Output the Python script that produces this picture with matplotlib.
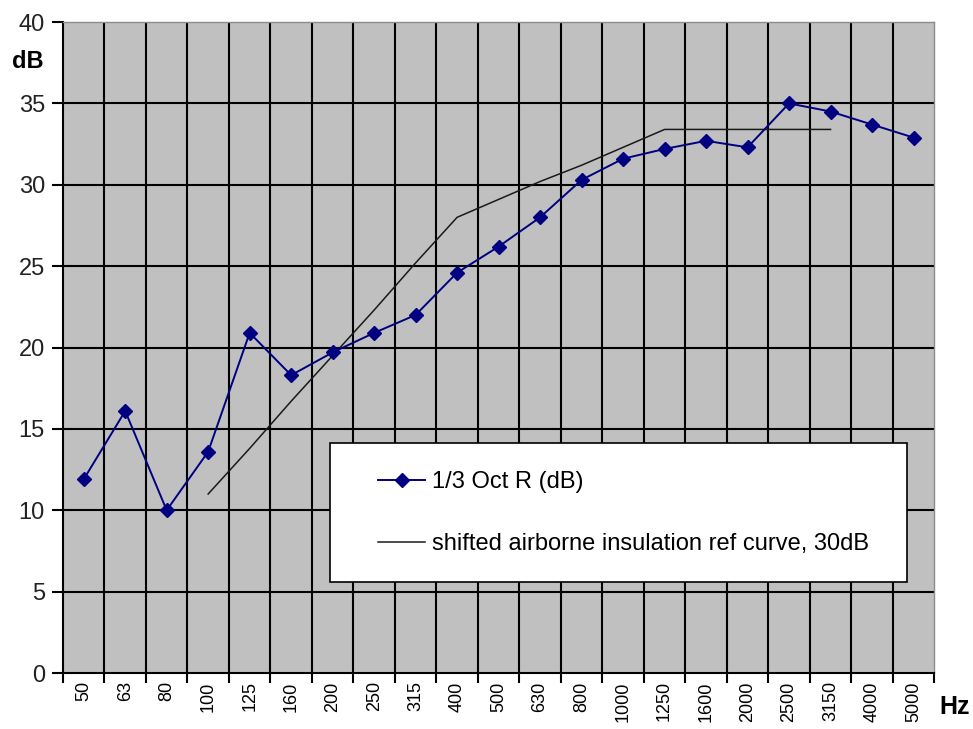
import numpy as np
import matplotlib.pyplot as plt
from matplotlib.patches import Rectangle

plt.rcParams['font.family'] = ['Liberation Sans', 'DejaVu Sans']

FREQS = ["50", "63", "80", "100", "125", "160", "200", "250", "315", "400",
         "500", "630", "800", "1000", "1250", "1600", "2000", "2500", "3150",
         "4000", "5000"]
R_DB = [11.9, 16.1, 10.0, 13.6, 20.9, 18.3, 19.7, 20.9, 22.0, 24.6,
        26.2, 28.0, 30.3, 31.6, 32.2, 32.7, 32.3, 35.0, 34.5, 33.7, 32.9]
REF_FREQS = ["100", "125", "160", "200", "250", "315", "400", "500", "630",
             "800", "1000", "1250", "1600", "2000", "2500", "3150"]
REF_DB = [11.0, 13.8, 16.7, 19.5, 22.3, 25.2, 28.0, 29.1, 30.2, 31.2,
          32.3, 33.4, 33.4, 33.4, 33.4, 33.4]

xs = np.arange(len(FREQS))
ref_x = [FREQS.index(f) for f in REF_FREQS]

fig = plt.figure(figsize=(9.73, 7.29), dpi=100)
ax = fig.add_axes([0.0647, 0.0768, 0.8955, 0.893])
ax.set_facecolor("#c0c0c0")

ax.plot(xs, R_DB, color="#000080", lw=1.4, marker="D", ms=7,
        label="1/3 Oct R (dB)", zorder=4)
ax.plot(ref_x, REF_DB, color="#1a1a1a", lw=1.1,
        label="shifted airborne insulation ref curve, 30dB", zorder=3)

ax.set_xlim(-0.5, len(FREQS) - 0.5)
ax.set_ylim(0, 40)

ax.set_xticks(xs)
ax.set_xticklabels(FREQS, rotation=90, fontsize=13)
ax.tick_params(axis="x", which="major", length=0, pad=6)
ax.set_xticks(np.arange(len(FREQS) + 1) - 0.5, minor=True)
ax.tick_params(axis="x", which="minor", length=7, width=1.5, direction="out")

ax.set_yticks(np.arange(0, 41, 5))
ax.tick_params(axis="y", labelsize=17, length=8, width=1.5, direction="out",
               pad=5, labelcolor="#222222")

ax.grid(False)
for y in range(5, 40, 5):
    ax.axhline(y, color="black", lw=1.5, zorder=1)
for x in np.arange(len(FREQS) - 1) + 0.5:
    ax.axvline(x, color="black", lw=1.5, zorder=1)

for s in ["left", "bottom"]:
    ax.spines[s].set_color("black")
    ax.spines[s].set_linewidth(1.5)
for s in ["top", "right"]:
    ax.spines[s].set_color("#8c8c8c")
    ax.spines[s].set_linewidth(1.0)

fig.text(0.012, 0.915, "dB", fontsize=17, fontweight="bold", ha="left", va="center")
fig.text(0.965, 0.030, "Hz", fontsize=18, fontweight="bold", ha="left", va="center")

# legend: white box + frameless legend inside
ax.add_patch(Rectangle((0.3065, 0.1398), 0.6625, 0.2135, transform=ax.transAxes,
                       facecolor="white", edgecolor="black", lw=1.2, zorder=5))
leg = ax.legend(loc="center left", bbox_to_anchor=(0.3617, 0.2458),
                frameon=False, fontsize=17, borderpad=0, borderaxespad=0,
                handlelength=2.0, handletextpad=0.3, labelspacing=1.7)
leg.set_zorder(6)

fig.savefig("out.png", dpi=100, facecolor="white")
